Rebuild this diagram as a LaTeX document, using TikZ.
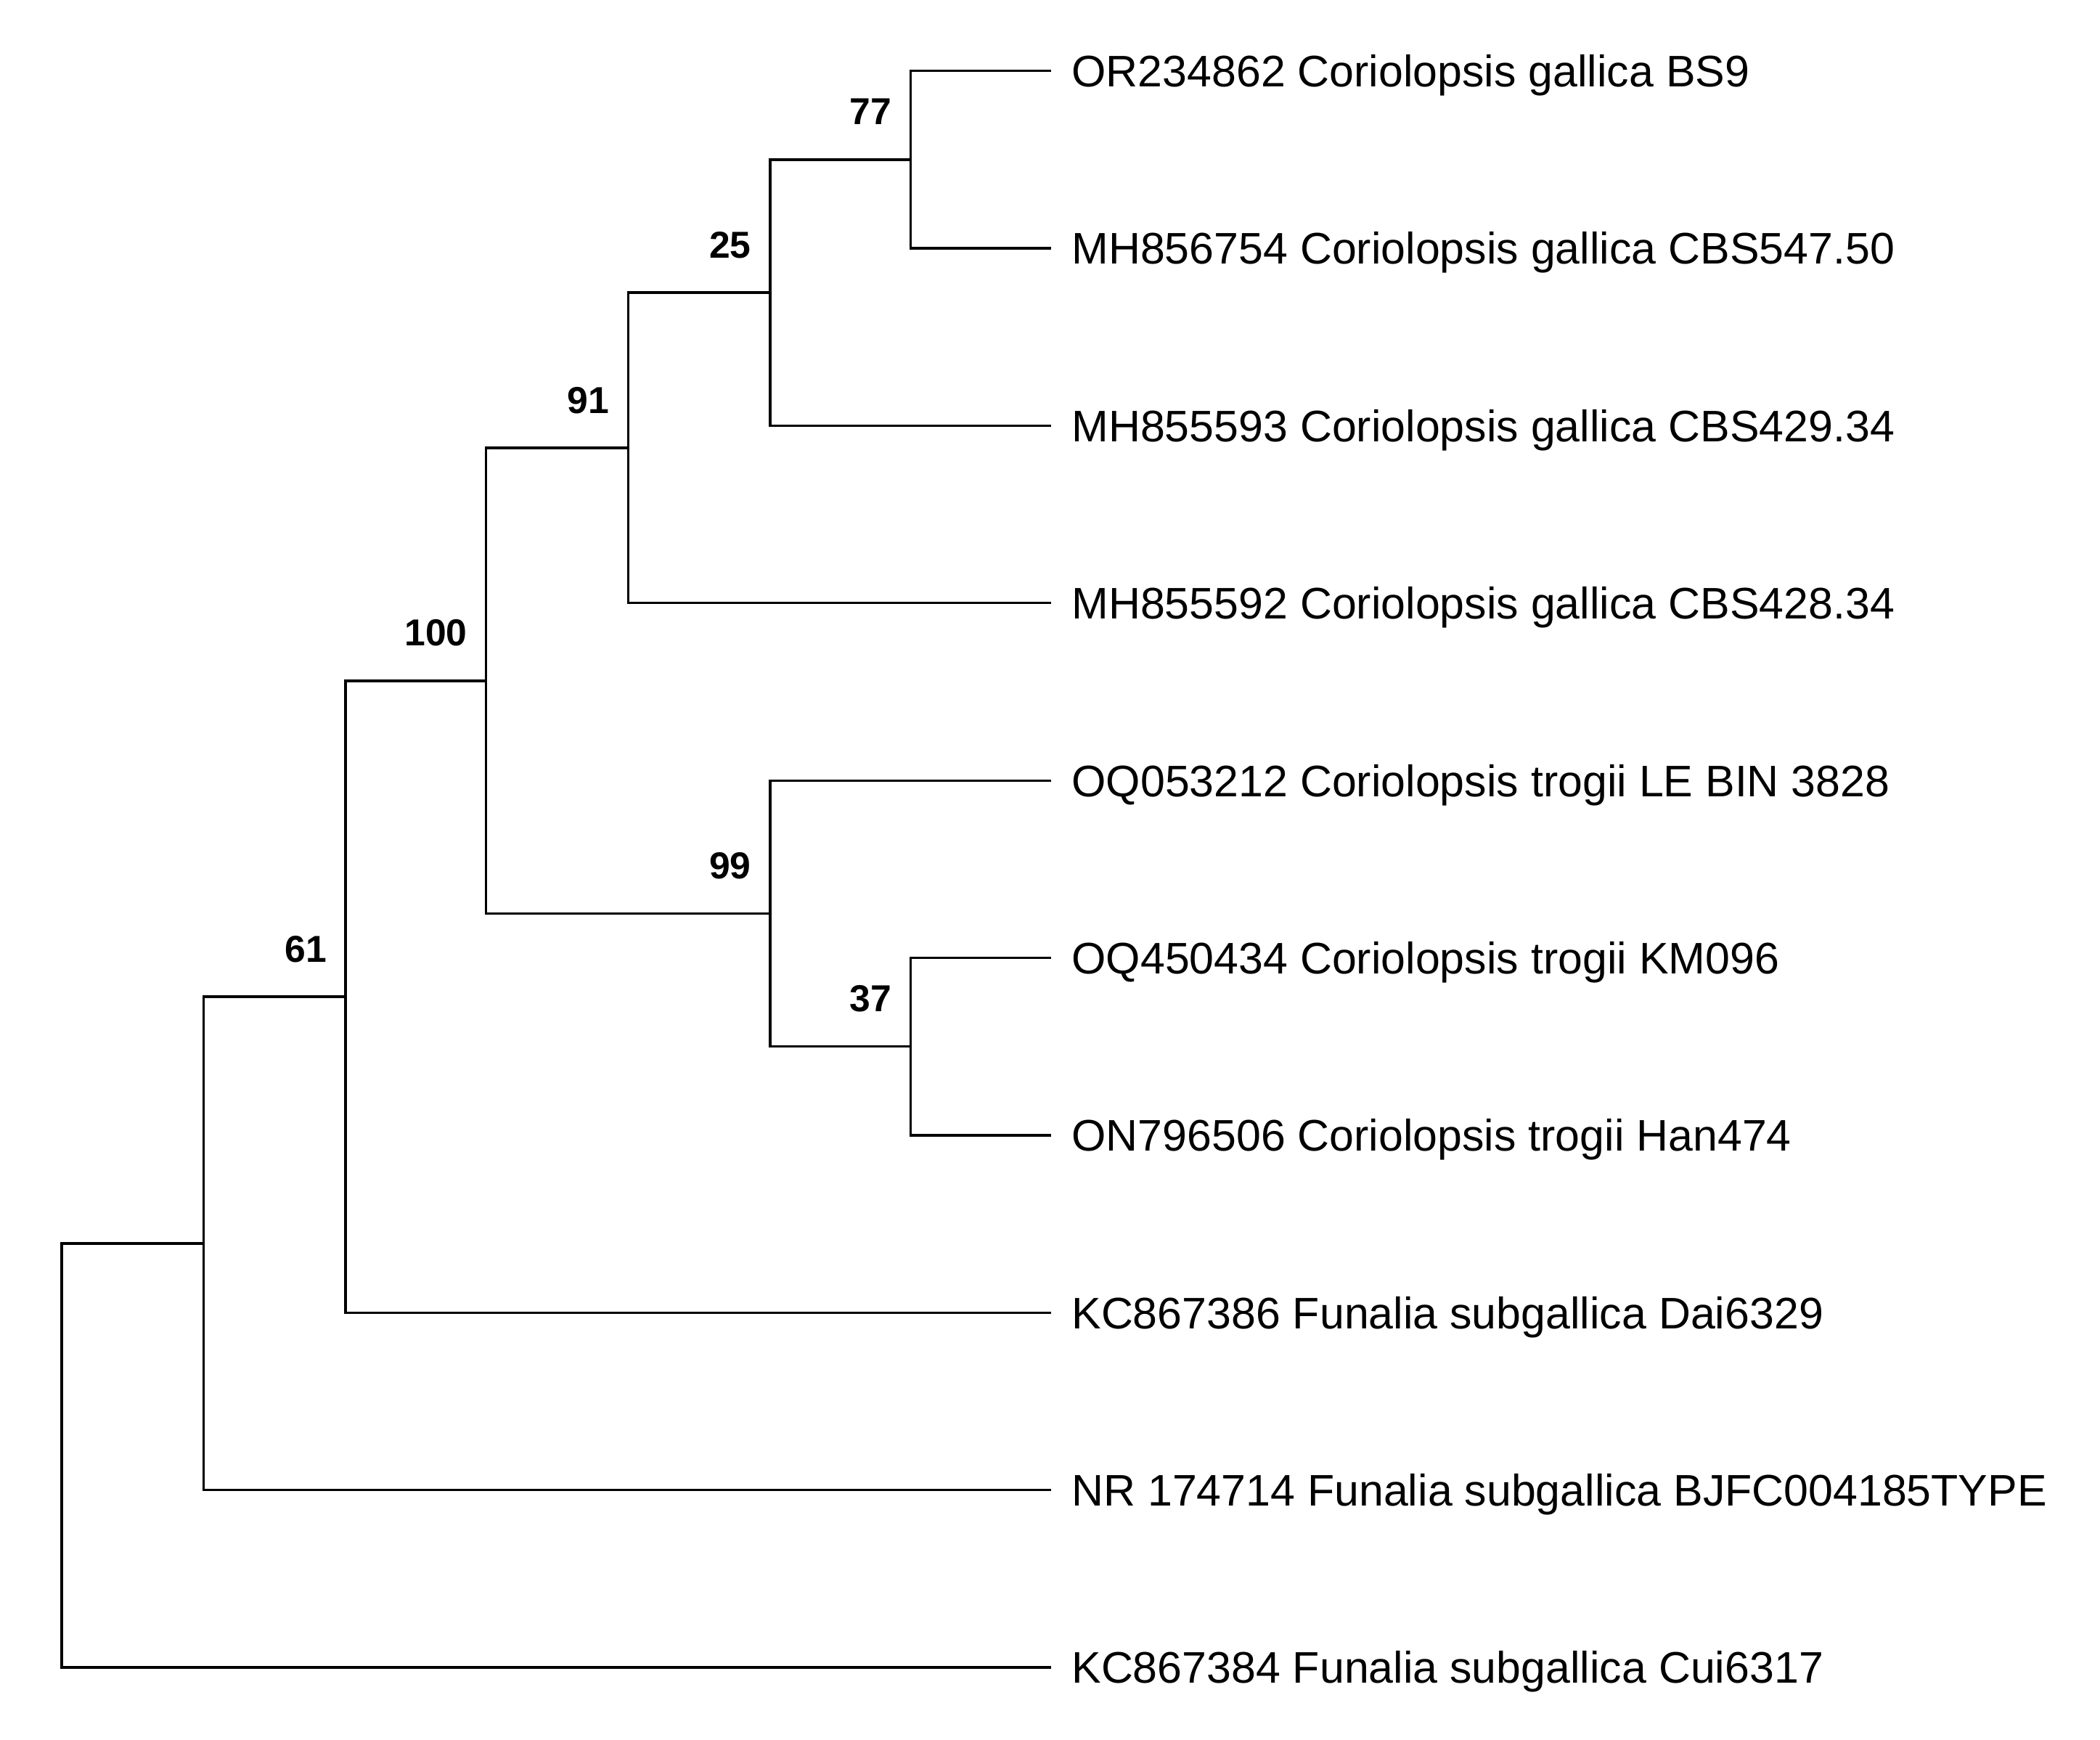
\documentclass[tikz,border=0pt]{standalone}
\usepackage{fontspec}
\setmainfont{Liberation Sans}
\begin{document}
\begin{tikzpicture}[x=1pt,y=-1pt,
  branch/.style={line width=1.8pt,line join=miter},
  leaf/.style={anchor=base west,inner sep=0pt,font=\fontsize{33}{38}\selectfont},
  boot/.style={anchor=base east,inner sep=0pt,font=\fontsize{28}{32}\selectfont\bfseries}]
\useasboundingbox (0,0) rectangle (1568,1299);
% leaf tips
\foreach \i/\y in {1/53,2/185.4,3/317.9,4/450.3,5/582.8,6/715.2,7/847.6,8/980.1,9/1112.5,10/1245}{
  \coordinate (t\i) at (785,\y);
}
% leaf labels
\node[leaf] (L1) at (800,64.8) {OR234862 Coriolopsis gallica BS9};
\node[leaf] (L2) at (800,197.2) {MH856754 Coriolopsis gallica CBS547.50};
\node[leaf] (L3) at (800,329.7) {MH855593 Coriolopsis gallica CBS429.34};
\node[leaf] (L4) at (800,462.1) {MH855592 Coriolopsis gallica CBS428.34};
\node[leaf] (L5) at (800,594.6) {OQ053212 Coriolopsis trogii LE BIN 3828};
\node[leaf] (L6) at (800,727) {OQ450434 Coriolopsis trogii KM096};
\node[leaf] (L7) at (800,859.4) {ON796506 Coriolopsis trogii Han474};
\node[leaf] (L8) at (800,991.9) {KC867386 Funalia subgallica Dai6329};
\node[leaf] (L9) at (800,1124.3) {NR 174714 Funalia subgallica BJFC004185TYPE};
\node[leaf] (L10) at (800,1256.8) {KC867384 Funalia subgallica Cui6317};
% internal nodes
\coordinate (n77) at (680,119.2);
\coordinate (n25) at (575,218.5);
\coordinate (n91) at (469,334.4);
\coordinate (n37) at (680,781.4);
\coordinate (n99) at (575,682.1);
\coordinate (n100) at (363,508.3);
\coordinate (n61) at (258,744.2);
\coordinate (n0) at (152,928.4);
\coordinate (root) at (46,1086.7);
% branches
\draw[branch] (n77) |- (t1);
\draw[branch] (n77) |- (t2);
\draw[branch] (n25) |- (n77);
\draw[branch] (n25) |- (t3);
\draw[branch] (n91) |- (n25);
\draw[branch] (n91) |- (t4);
\draw[branch] (n37) |- (t6);
\draw[branch] (n37) |- (t7);
\draw[branch] (n99) |- (t5);
\draw[branch] (n99) |- (n37);
\draw[branch] (n100) |- (n91);
\draw[branch] (n100) |- (n99);
\draw[branch] (n61) |- (n100);
\draw[branch] (n61) |- (t8);
\draw[branch] (n0) |- (n61);
\draw[branch] (n0) |- (t9);
\draw[branch] (root) |- (n0);
\draw[branch] (root) |- (t10);
% bootstrap values
\node[boot] (b77) at (666,93.2) {77};
\node[boot] (b25) at (561,192.5) {25};
\node[boot] (b91) at (455,308.4) {91};
\node[boot] (b100) at (349,482.3) {100};
\node[boot] (b99) at (561,656.1) {99};
\node[boot] (b37) at (666,755.4) {37};
\node[boot] (b61) at (244,718.2) {61};
\end{tikzpicture}
\end{document}
